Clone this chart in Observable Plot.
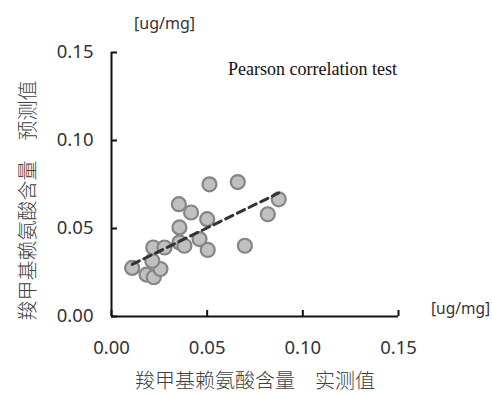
<!DOCTYPE html>
<html>
<head>
<meta charset="utf-8">
<script src="https://cdn.jsdelivr.net/npm/d3@7"></script>
<script src="https://cdn.jsdelivr.net/npm/@observablehq/plot@0.6"></script>
<style>
  html, body { margin: 0; padding: 0; background: #fff; }
</style>
</head>
<body>
<div id="chart"></div>
<script>
// Measured (x) vs predicted (y) carboxymethyl-lysine content [ug/mg]
const measured  = [0.0108, 0.0183, 0.0221, 0.0256, 0.0213, 0.0218, 0.0277, 0.0355, 0.0381, 0.0355,
                   0.0352, 0.0416, 0.0460, 0.0503, 0.0500, 0.0512, 0.0660, 0.0697, 0.0817, 0.0874];
const predicted = [0.0276, 0.0238, 0.0223, 0.0270, 0.0317, 0.0392, 0.0392, 0.0421, 0.0402, 0.0506,
                   0.0638, 0.0591, 0.0440, 0.0378, 0.0553, 0.0751, 0.0764, 0.0402, 0.0581, 0.0666];
const xTicks = [0, 0.05, 0.10, 0.15];
const yTicks = [0, 0.05, 0.10, 0.15];
const xTitle = "羧甲基赖氨酸含量　实测值";
const yTitle = "羧甲基赖氨酸含量　预测值";
const unitLabel = "[ug/mg]";
const note = "Pearson correlation test";

const data = measured.map((x, i) => ({x, y: predicted[i]}));
const fmt = d3.format(".2f");
const tickFont = {fontSize: 18.5, fill: "#333", fontFamily: "'Noto Sans', 'Open Sans', sans-serif"};
const cjk = "'Noto Sans CJK SC', sans-serif";

const chart = Plot.plot({
  width: 492,
  height: 396,
  marginLeft: 111,
  marginRight: 94,
  marginTop: 52,
  marginBottom: 80,
  style: {background: "#fff", overflow: "visible"},
  x: {domain: [0, 0.15]},
  y: {domain: [0, 0.15]},
  marks: [
    // axis lines
    Plot.ruleX([0], {stroke: "#111", strokeWidth: 2}),
    Plot.ruleY([0], {stroke: "#111", strokeWidth: 2}),
    // inward ticks
    Plot.axisY(yTicks, {tickSize: 6, dx: 6, tickFormat: () => "", stroke: "#111", strokeWidth: 2, label: null}),
    Plot.axisX(xTicks, {tickSize: 6, dy: -6, tickFormat: () => "", stroke: "#111", strokeWidth: 2, label: null}),
    // tick labels
    Plot.axisY(yTicks, {tickSize: 0, tickPadding: 18, tickFormat: fmt, label: null, ...tickFont}),
    Plot.axisX(xTicks, {tickSize: 0, tickPadding: 24, tickFormat: fmt, label: null, ...tickFont}),
    // points
    Plot.dot(data, {x: "x", y: "y", r: 7, fill: "#c0c0c0", stroke: "#858585", strokeWidth: 2.2}),
    // regression line
    Plot.linearRegressionY(data, {x: "x", y: "y", ci: 0, stroke: "#333", strokeWidth: 3, strokeDasharray: "8,5"}),
    // texts
    Plot.text([unitLabel], {frameAnchor: "top-left", dx: 53, dy: -35, fontSize: 16, fill: "#333", fontFamily: "'Noto Sans', sans-serif", textAnchor: "middle"}),
    Plot.text([unitLabel], {frameAnchor: "bottom-right", dx: 62, dy: -3, fontSize: 15.5, fill: "#333", fontFamily: "'Noto Sans', sans-serif", textAnchor: "middle"}),
    Plot.text([note], {frameAnchor: "top-left", dx: 201, dy: 10, fontSize: 18, fill: "#111", fontFamily: "'Liberation Serif', serif", textAnchor: "middle"}),
    Plot.text([xTitle], {frameAnchor: "bottom", dy: 71, fontSize: 20, fontWeight: 300, fill: "#404040", fontFamily: cjk, textAnchor: "middle"}),
    Plot.text([yTitle], {frameAnchor: "left", dx: -83, dy: 16, rotate: -90, fontSize: 20, fontWeight: 300, fill: "#404040", fontFamily: cjk, textAnchor: "middle"})
  ]
});
document.getElementById("chart").appendChild(chart);
</script>
</body>
</html>
